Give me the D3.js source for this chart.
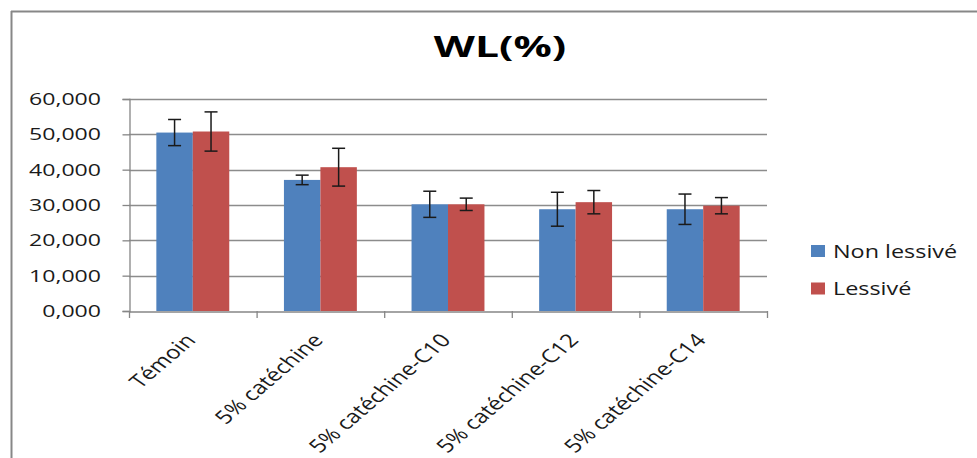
<!DOCTYPE html>
<html><head><meta charset="utf-8">
<script src="https://cdn.jsdelivr.net/npm/d3@7"></script>
<style>
html,body{margin:0;padding:0;background:#fff;}
text{font-family:"Open Sans","DejaVu Sans",sans-serif;fill:#1a1a1a;}
</style></head>
<body>
<svg id="chart" width="977" height="458"></svg>
<script>
const title = "WL(%)";
const categories = ["Témoin","5% catéchine","5% catéchine-C10","5% catéchine-C12","5% catéchine-C14"];
const seriesNames = ["Non lessivé","Lessivé"];
const nonLessive = [50.5, 37.1, 30.2, 28.8, 28.8];
const nonLessiveErr = [3.7, 1.35, 3.7, 4.8, 4.3];
const lessive = [50.8, 40.7, 30.2, 30.8, 29.8];
const lessiveErr = [5.55, 5.35, 1.75, 3.3, 2.3];
const yTicks = [0, 10, 20, 30, 40, 50, 60];
const colors = ["#4F81BD", "#C0504D"];

const svg = d3.select("#chart");
const L = 129, R = 767, T = 99, B = 311;

// frame
svg.append("line").attr("x1",11).attr("x2",977).attr("y1",11.5).attr("y2",11.5).attr("stroke","#878787").attr("stroke-width",2);
svg.append("line").attr("x1",11.5).attr("x2",11.5).attr("y1",11).attr("y2",458).attr("stroke","#878787").attr("stroke-width",2);

const x0 = d3.scaleBand().domain(categories).range([L, R]).paddingInner(0).paddingOuter(0);
const x1 = d3.scaleBand().domain(seriesNames).range([0, x0.bandwidth()]).paddingInner(0).paddingOuter(0.75);
const y = d3.scaleLinear().domain([0, 60]).range([B, T]);

// gridlines
svg.append("g").selectAll("line").data(yTicks.filter(d=>d>0)).join("line")
  .attr("x1", L).attr("x2", R)
  .attr("y1", d=>Math.round(y(d))+0.5).attr("y2", d=>Math.round(y(d))+0.5)
  .attr("stroke","#8c8c8c").attr("stroke-width",1.3);

// y axis
const fmt = d => d3.format(".3f")(d).replace(".", ",");
const yAxis = d3.axisLeft(y).tickValues(yTicks).tickSize(7).tickFormat(fmt);
const gy = svg.append("g").attr("transform", `translate(${L+0.5},0)`).call(yAxis);
gy.select(".domain").attr("stroke","#868686").attr("stroke-width",1.3);
gy.selectAll(".tick line").attr("stroke","#868686").attr("stroke-width",1.3);
gy.selectAll(".tick text").remove();
svg.append("g").selectAll("text").data(yTicks).join("text")
  .attr("transform", d=>`translate(101,${y(d)+6}) scale(1.4,1)`)
  .attr("text-anchor","end").style("font-size","16.5px").text(fmt);

// bars
const data = categories.map((c,i)=>({c, vals:[
  {s:seriesNames[0], v:nonLessive[i], e:nonLessiveErr[i]},
  {s:seriesNames[1], v:lessive[i], e:lessiveErr[i]}]}));
const groups = svg.append("g").selectAll("g").data(data).join("g")
  .attr("transform", d=>`translate(${x0(d.c)},0)`);
groups.selectAll("rect").data(d=>d.vals).join("rect")
  .attr("x", d=>x1(d.s)).attr("width", x1.bandwidth())
  .attr("y", d=>y(d.v)).attr("height", d=>B - y(d.v))
  .attr("fill", (d,i)=>colors[i]);

// x axis
const xAxis = d3.axisBottom(x0).tickSize(0).tickFormat("");
const gx = svg.append("g").attr("transform", `translate(0,${B+0.5})`).call(xAxis);
gx.select(".domain").attr("stroke","#868686").attr("stroke-width",1.3);
const bounds = categories.map(c=>x0(c)).concat([R]);
svg.append("g").selectAll("line").data(bounds).join("line")
  .attr("x1", d=>d+0.5).attr("x2", d=>d+0.5).attr("y1", B).attr("y2", B+7)
  .attr("stroke","#868686").attr("stroke-width",1.3);

// error bars
const eb = groups.selectAll("g.err").data(d=>d.vals).join("g").attr("class","err");
const cap = 6.5;
eb.append("line").attr("x1", d=>x1(d.s)+x1.bandwidth()/2).attr("x2", d=>x1(d.s)+x1.bandwidth()/2)
  .attr("y1", d=>y(d.v+d.e)).attr("y2", d=>y(d.v-d.e));
eb.append("line").attr("x1", d=>x1(d.s)+x1.bandwidth()/2-cap).attr("x2", d=>x1(d.s)+x1.bandwidth()/2+cap)
  .attr("y1", d=>y(d.v+d.e)).attr("y2", d=>y(d.v+d.e));
eb.append("line").attr("x1", d=>x1(d.s)+x1.bandwidth()/2-cap).attr("x2", d=>x1(d.s)+x1.bandwidth()/2+cap)
  .attr("y1", d=>y(d.v-d.e)).attr("y2", d=>y(d.v-d.e));
eb.selectAll("line").attr("stroke","#1a1a1a").attr("stroke-width",1.5);

// x labels
svg.append("g").selectAll("text").data(categories).join("text")
  .attr("transform", d=>`translate(${x0(d)+x0.bandwidth()/2+4},${B+30}) scale(1.3,1) rotate(-48)`)
  .attr("text-anchor","end").style("font-size","18.5px").text(d=>d);

// title
svg.append("text").attr("transform", `translate(500,57) scale(1.52,1)`)
  .attr("text-anchor","middle").style("font-size","28px").style("font-weight","bold")
  .style("fill","#000").text(title);

// legend
const lg = svg.append("g").selectAll("g").data(seriesNames).join("g")
  .attr("transform", (d,i)=>`translate(811,${245+i*37.5})`);
lg.append("rect").attr("width",14).attr("height",12).attr("fill",(d,i)=>colors[i]);
lg.append("text").attr("transform", `translate(22,12.5) scale(1.3,1)`)
  .style("font-size","18px").text(d=>d);
</script>
</body></html>
